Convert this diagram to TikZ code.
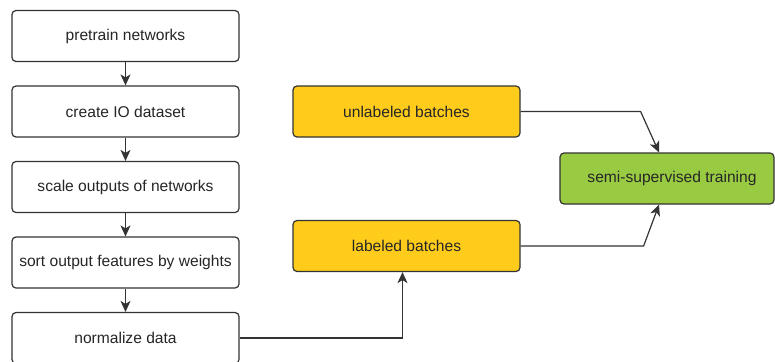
\documentclass[tikz,border=0pt]{standalone}
\usepackage{fontspec}
\setmainfont{Liberation Sans}
\usepackage{xcolor}
\usetikzlibrary{arrows.meta, positioning}

\definecolor{batchyellow}{HTML}{FFCC1C}
\definecolor{traingreen}{HTML}{99CB42}
\definecolor{linegray}{HTML}{333333}

\begin{document}
\begin{tikzpicture}[
    x=1pt, y=-1pt,
    node distance=75.5pt,
    box/.style={rectangle, rounded corners=4pt, draw=linegray, line width=1.2pt, minimum width=227pt, minimum height=51pt, align=center, fill=white, text=black!85, font=\fontsize{15.6}{18}\selectfont},
    batch/.style={box, fill=batchyellow},
    train/.style={box, fill=traingreen, minimum width=214pt},
    arrow/.style={-{Stealth[length=11pt,width=10pt,inset=3pt]}, line width=1.2pt, draw=linegray}
]
    \useasboundingbox (0,0) rectangle (775,361);

    % Nodes
    \node[box] (pre) at (125.5,36) {pretrain networks};
    \node[box, below of=pre] (io) {create IO dataset};
    \node[box, below of=io] (scale) {scale outputs of networks};
    \node[box, below of=scale] (sort) {sort output features by weights};
    \node[box, below of=sort] (norm) {normalize data};

    \node[batch] (unl) at (406.5,111.5) {unlabeled batches};
    \node[batch] (lab) at (406.5,246) {labeled batches};
    \node[train] (sst) at (667,178.5) {\hspace*{10pt}semi-supervised training};

    \coordinate (labin) at ([xshift=-4pt]lab.south);
    \coordinate (sstin) at ([xshift=-8pt]sst.north);
    \coordinate (sstout) at ([xshift=-8pt]sst.south);

    % Arrows
    \draw[arrow] (pre) -- (io);
    \draw[arrow] (io) -- (scale);
    \draw[arrow] (scale) -- (sort);
    \draw[arrow] (sort) -- (norm);
    \draw[arrow] (norm.east) -| (labin);
    \draw[arrow] (unl.east) -- ++(120,0) -- (sstin);
    \draw[arrow] (lab.east) -- ++(123,0) -- (sstout);
\end{tikzpicture}
\end{document}
